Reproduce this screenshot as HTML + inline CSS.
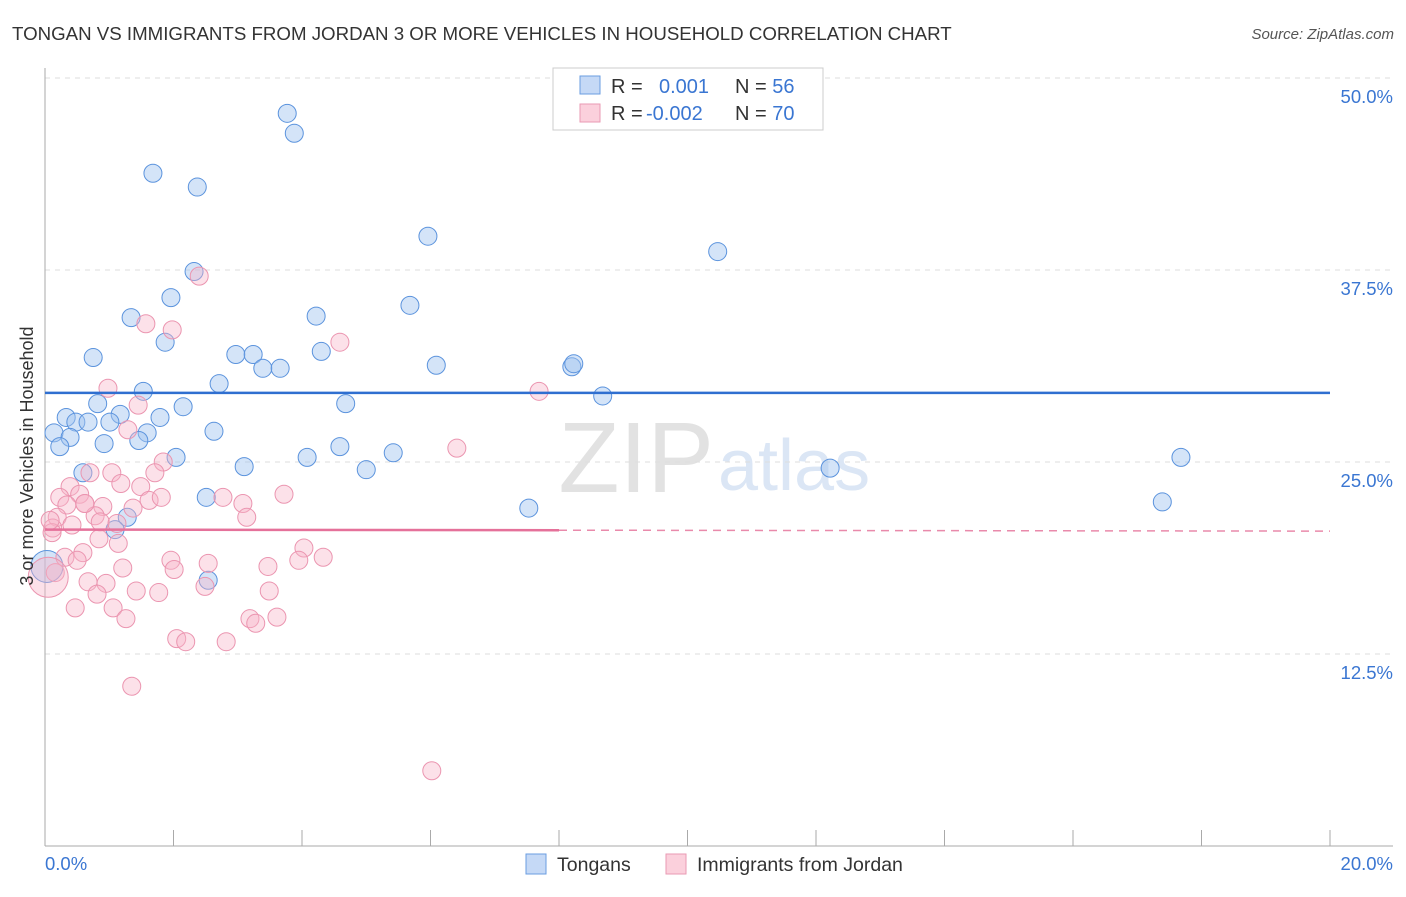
<!DOCTYPE html>
<html><head><meta charset="utf-8"><style>
body{margin:0;background:#fff;font-family:"Liberation Sans",sans-serif;}
svg text{font-family:"Liberation Sans",sans-serif;}
</style></head><body>
<svg id="chart" width="1406" height="892">
<text x="12" y="40" font-size="18.7" fill="#333">TONGAN VS IMMIGRANTS FROM JORDAN 3 OR MORE VEHICLES IN HOUSEHOLD CORRELATION CHART</text>
<text x="1394" y="39" font-size="15" fill="#555" font-style="italic" text-anchor="end">Source: ZipAtlas.com</text>
<text x="714" y="492" font-size="100" fill="#e2e2e2" text-anchor="end" font-family="Liberation Serif">ZIP</text>
<text x="718" y="490" font-size="72" fill="#dbe6f5">atlas</text>
<g id="grid"></g>
<g id="marks"></g>
<text transform="translate(33,456) rotate(-90)" font-size="18" fill="#333" text-anchor="middle">3 or more Vehicles in Household</text>
<g>
<rect x="553" y="68" width="270" height="62" fill="#fff" stroke="#ccc"/>
<rect x="580" y="76" width="20" height="18" fill="#c5d9f6" stroke="#6a9de0"/>
<rect x="580" y="104" width="20" height="18" fill="#fbd0dc" stroke="#ea9ab3"/>
<text x="611" y="93" font-size="20" fill="#333">R = <tspan fill="#3a76d2" x="659">0.001</tspan><tspan x="735" fill="#333">N = </tspan><tspan fill="#3a76d2">56</tspan></text>
<text x="611" y="120" font-size="20" fill="#333">R = <tspan fill="#3a76d2" x="646">-0.002</tspan><tspan x="735" fill="#333">N = </tspan><tspan fill="#3a76d2">70</tspan></text>
</g>
<g>
<rect x="526" y="854" width="20" height="20" fill="#c5d9f6" stroke="#6a9de0"/>
<text x="557" y="871" font-size="19.5" fill="#333">Tongans</text>
<rect x="666" y="854" width="20" height="20" fill="#fbd0dc" stroke="#ea9ab3"/>
<text x="697" y="871" font-size="19.5" fill="#333">Immigrants from Jordan</text>
</g>
</svg>
<script>
const yTicks=[12.5,25,37.5,50];
const yTickLabels=["12.5%","25.0%","37.5%","50.0%"];
const xTickLabels=["0.0%","20.0%"];
const blueX=[3.77,3.88,1.68,2.37,5.96,10.47,2.32,1.96,5.68,1.34,4.22,1.87,0.75,2.97,3.24,4.30,3.39,3.66,6.09,8.20,8.23,2.71,1.53,0.82,2.15,4.68,8.68,0.33,0.48,0.67,1.17,1.79,1.01,0.14,0.39,1.59,2.63,0.92,1.46,0.23,2.04,4.08,4.59,5.42,3.10,5.00,0.59,12.22,17.68,2.51,7.53,17.39,1.28,1.09,2.54,0.03];
const blueY=[47.7,46.4,43.8,42.9,39.7,38.7,37.4,35.7,35.2,34.4,34.5,32.8,31.8,32.0,32.0,32.2,31.1,31.1,31.3,31.2,31.4,30.1,29.6,28.8,28.6,28.8,29.3,27.9,27.6,27.6,28.1,27.9,27.6,26.9,26.6,26.9,27.0,26.2,26.4,26.0,25.3,25.3,26.0,25.6,24.7,24.5,24.3,24.6,25.3,22.7,22.0,22.4,21.4,20.6,17.3,18.2];
const pinkX=[0.98,1.45,1.29,1.84,1.71,0.70,1.04,1.18,1.49,0.39,0.23,0.54,0.34,0.62,0.90,1.62,1.81,1.37,0.78,0.19,0.86,1.12,0.42,0.12,2.77,3.08,3.14,3.72,0.84,1.14,0.59,0.31,0.50,1.96,2.01,2.54,3.47,4.03,3.95,4.33,1.21,0.67,0.95,0.81,1.42,1.77,2.49,3.49,0.47,1.06,1.26,3.19,3.28,3.61,2.05,2.19,2.82,1.35,0.16,0.05,2.40,1.57,1.98,4.59,7.69,6.41,6.02,0.11,0.08,0.62];
const pinkY=[29.8,28.7,27.1,25.0,24.3,24.3,24.3,23.6,23.4,23.4,22.7,22.9,22.2,22.3,22.1,22.5,22.7,22.0,21.5,21.4,21.1,21.0,20.9,20.7,22.7,22.3,21.4,22.9,20.0,19.7,19.1,18.8,18.6,18.6,18.0,18.4,18.2,19.4,18.6,18.8,18.1,17.2,17.1,16.4,16.6,16.5,16.9,16.6,15.5,15.5,14.8,14.8,14.5,14.9,13.5,13.3,13.3,10.4,17.8,17.5,37.1,34.0,33.6,32.8,29.6,25.9,4.9,20.4,21.2,22.3];
const blueTrend=[29.5,29.5];
const pinkTrend=[20.6,20.5];
const X0=45,X1=1330,Y0=846,PX=15.36;
const sx=v=>X0+(v/20)*(X1-X0);
const sy=v=>Y0-v*PX;
const NS="http://www.w3.org/2000/svg";
const grid=document.getElementById('grid'),marks=document.getElementById('marks');
function mk(tag,attrs,parent){const e=document.createElementNS(NS,tag);for(const k in attrs)e.setAttribute(k,attrs[k]);parent.appendChild(e);return e;}
yTicks.forEach((t,i)=>{
 const l=mk('line',{x1:X0,x2:1393,y1:sy(t),y2:sy(t),stroke:'#ddd','stroke-dasharray':'5,5'},grid);
 
 
 const tx=mk('text',{x:1393,y:sy(t)+25,'font-size':18.5,fill:'#3a76d2','text-anchor':'end'},grid);
 tx.textContent=yTickLabels[i];
 
 
});
const ax=mk('line',{x1:X0,x2:X0,y1:68,y2:Y0,stroke:'#aaa'},grid);


const bx=mk('line',{x1:X0,x2:1393,y1:Y0,y2:Y0,stroke:'#aaa'},grid);


for(let i=1;i<=10;i++){const t=mk('line',{x1:sx(i*2),x2:sx(i*2),y1:830,y2:Y0,stroke:'#aaa'},grid);
 
 }
const xl0=mk('text',{x:X0,y:870,'font-size':18.5,fill:'#3a76d2'},grid);xl0.textContent=xTickLabels[0];


const xl1=mk('text',{x:1393,y:870,'font-size':18.5,fill:'#3a76d2','text-anchor':'end'},grid);xl1.textContent=xTickLabels[1];


blueX.forEach((x,i)=>{const big=i===blueX.length-1;
 const c=mk('circle',{cx:sx(x),cy:sy(blueY[i]),r:big?16:9,fill:'rgba(160,195,240,0.45)',stroke:'#5b93dd','stroke-width':1},marks);
 
 });
pinkX.forEach((x,i)=>{const big=(i===59);
 const c=mk('circle',{cx:sx(x),cy:sy(pinkY[i]),r:big?20:9,fill:'rgba(248,180,200,0.4)',stroke:'#eb95b0','stroke-width':1},marks);
 
 });
const bl=mk('line',{x1:sx(0),x2:sx(20),y1:sy(blueTrend[0]),y2:sy(blueTrend[1]),stroke:'#2f6fd0','stroke-width':2.5},marks);


const pmid=pinkTrend[0]+(pinkTrend[1]-pinkTrend[0])*0.4;
const pl=mk('line',{x1:sx(0),x2:sx(8),y1:sy(pinkTrend[0]),y2:sy(pmid),stroke:'#e5719a','stroke-width':2.5},marks);


const pd=mk('line',{x1:sx(8),x2:sx(20),y1:sy(pmid),y2:sy(pinkTrend[1]),stroke:'#e98aab','stroke-width':1.5,'stroke-dasharray':'8,6'},marks);


</script>
</body></html>
